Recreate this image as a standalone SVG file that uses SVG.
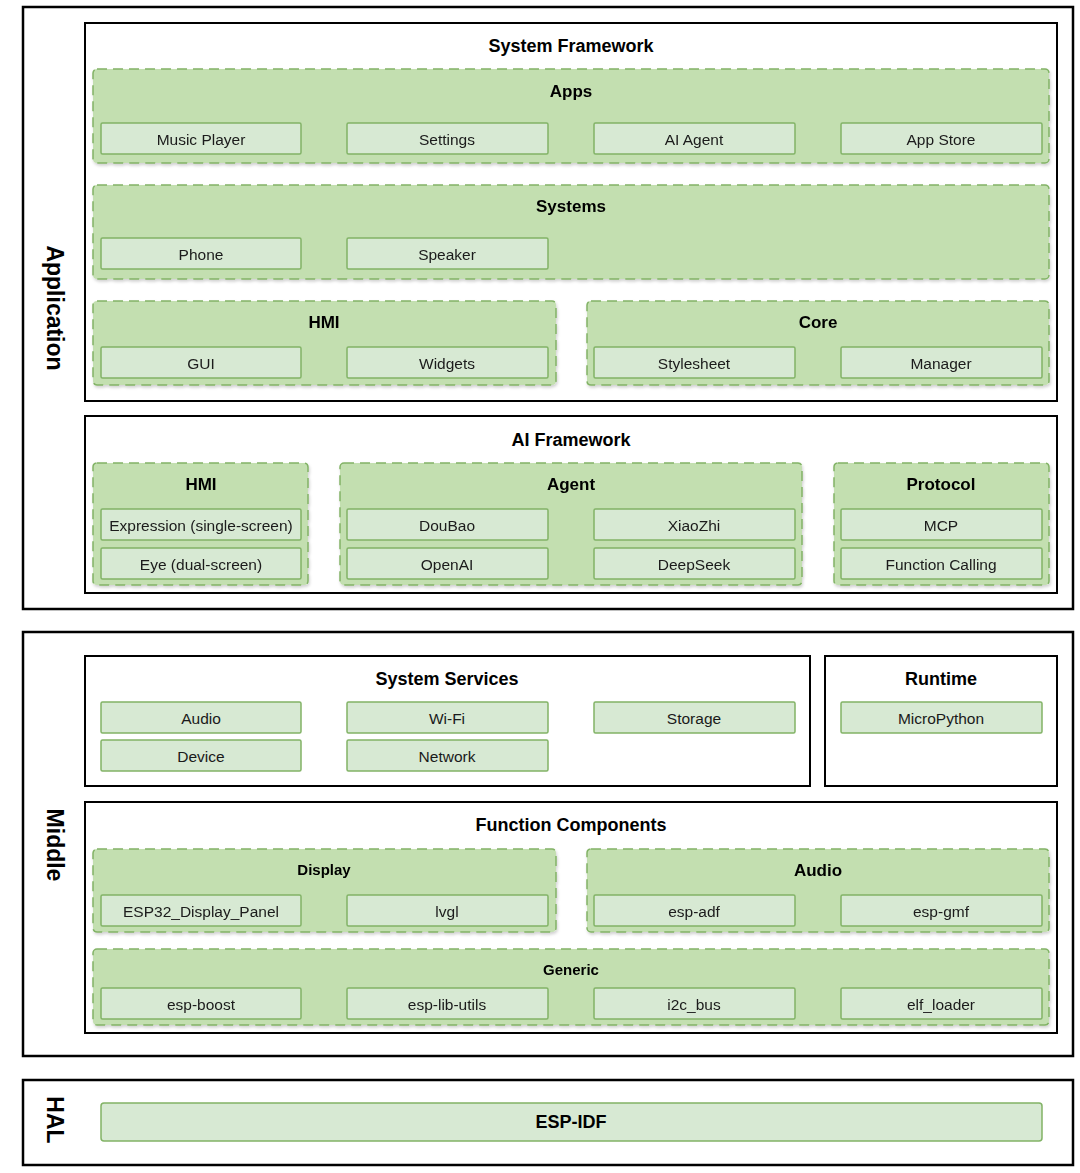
<svg xmlns="http://www.w3.org/2000/svg" width="1080" height="1173" viewBox="0 0 1080 1173">
<style>
.frame{fill:#fff;stroke:#000;stroke-width:2.5}
.box{fill:#fff;stroke:#000;stroke-width:2}
.grp{fill:#c3dfb0;stroke:#82b366;stroke-width:1.5;stroke-dasharray:10 6}
.item{fill:#d7e9d3;stroke:#82b366;stroke-width:1.5}
.t{font-family:"Liberation Sans",Arial,sans-serif;font-size:15.5px;fill:#1a1a1a;text-anchor:middle;dominant-baseline:central}
.h{font-family:"Liberation Sans",Arial,sans-serif;font-weight:bold;font-size:18px;fill:#000;text-anchor:middle;dominant-baseline:central}
.hm{font-family:"Liberation Sans",Arial,sans-serif;font-weight:bold;font-size:17px;fill:#000;text-anchor:middle;dominant-baseline:central}
.hs{font-family:"Liberation Sans",Arial,sans-serif;font-weight:bold;font-size:15px;fill:#000;text-anchor:middle;dominant-baseline:central}
.side{font-family:"Liberation Sans",Arial,sans-serif;font-weight:bold;font-size:23px;fill:#000;text-anchor:middle;dominant-baseline:central}
</style>
<defs>
<filter id="sh" x="-5%" y="-5%" width="110%" height="120%">
<feDropShadow dx="1" dy="2" stdDeviation="1.5" flood-color="#000" flood-opacity="0.18"/>
</filter>
</defs>
<rect width="1080" height="1173" fill="#fff"/>
<g id="connectors"></g>

<!-- Application -->
<g id="application">
<rect class="frame" x="23" y="7" width="1050" height="602"/>
<text class="side" transform="translate(55,308) rotate(90)">Application</text>
</g>
<g id="system-framework">
<rect class="box" x="85" y="23" width="972" height="378"/>
<text class="h" x="571" y="46">System Framework</text>
</g>
<g id="apps" filter="url(#sh)">
<rect class="grp" x="93" y="69" width="956" height="94" rx="4"/>
<text class="hm" x="571" y="91">Apps</text>
<rect class="item" x="101" y="123" width="200" height="31" rx="1.5"/><text class="t" x="201" y="139">Music Player</text>
<rect class="item" x="347" y="123" width="201" height="31" rx="1.5"/><text class="t" x="447" y="139">Settings</text>
<rect class="item" x="594" y="123" width="201" height="31" rx="1.5"/><text class="t" x="694" y="139">AI Agent</text>
<rect class="item" x="841" y="123" width="201" height="31" rx="1.5"/><text class="t" x="941" y="139">App Store</text>
</g>
<g id="systems" filter="url(#sh)">
<rect class="grp" x="93" y="185" width="956" height="94" rx="4"/>
<text class="hm" x="571" y="206">Systems</text>
<rect class="item" x="101" y="238" width="200" height="31" rx="1.5"/><text class="t" x="201" y="254">Phone</text>
<rect class="item" x="347" y="238" width="201" height="31" rx="1.5"/><text class="t" x="447" y="254">Speaker</text>
</g>
<g id="hmi-sys" filter="url(#sh)">
<rect class="grp" x="93" y="301" width="463" height="84" rx="4"/>
<text class="hm" x="324" y="322">HMI</text>
<rect class="item" x="101" y="347" width="200" height="31" rx="1.5"/><text class="t" x="201" y="363">GUI</text>
<rect class="item" x="347" y="347" width="201" height="31" rx="1.5"/><text class="t" x="447" y="363">Widgets</text>
</g>
<g id="core" filter="url(#sh)">
<rect class="grp" x="587" y="301" width="462" height="84" rx="4"/>
<text class="hm" x="818" y="322">Core</text>
<rect class="item" x="594" y="347" width="201" height="31" rx="1.5"/><text class="t" x="694" y="363">Stylesheet</text>
<rect class="item" x="841" y="347" width="201" height="31" rx="1.5"/><text class="t" x="941" y="363">Manager</text>
</g>

<g id="ai-framework">
<rect class="box" x="85" y="416" width="972" height="177"/>
<text class="h" x="571" y="440">AI Framework</text>
</g>
<g id="hmi-ai" filter="url(#sh)">
<rect class="grp" x="93" y="463" width="215" height="122" rx="4"/>
<text class="hm" x="201" y="484">HMI</text>
<rect class="item" x="101" y="509" width="200" height="31" rx="1.5"/><text class="t" x="201" y="525">Expression (single-screen)</text>
<rect class="item" x="101" y="548" width="200" height="31" rx="1.5"/><text class="t" x="201" y="564">Eye (dual-screen)</text>
</g>
<g id="agent" filter="url(#sh)">
<rect class="grp" x="340" y="463" width="462" height="122" rx="4"/>
<text class="hm" x="571" y="484">Agent</text>
<rect class="item" x="347" y="509" width="201" height="31" rx="1.5"/><text class="t" x="447" y="525">DouBao</text>
<rect class="item" x="594" y="509" width="201" height="31" rx="1.5"/><text class="t" x="694" y="525">XiaoZhi</text>
<rect class="item" x="347" y="548" width="201" height="31" rx="1.5"/><text class="t" x="447" y="564">OpenAI</text>
<rect class="item" x="594" y="548" width="201" height="31" rx="1.5"/><text class="t" x="694" y="564">DeepSeek</text>
</g>
<g id="protocol" filter="url(#sh)">
<rect class="grp" x="834" y="463" width="215" height="122" rx="4"/>
<text class="hm" x="941" y="484">Protocol</text>
<rect class="item" x="841" y="509" width="201" height="31" rx="1.5"/><text class="t" x="941" y="525">MCP</text>
<rect class="item" x="841" y="548" width="201" height="31" rx="1.5"/><text class="t" x="941" y="564">Function Calling</text>
</g>

<!-- Middle -->
<g id="middle">
<rect class="frame" x="23" y="632" width="1050" height="424"/>
<text class="side" transform="translate(55,845) rotate(90)">Middle</text>
</g>
<g id="system-services">
<rect class="box" x="85" y="656" width="725" height="130"/>
<text class="h" x="447" y="679">System Services</text>
<rect class="item" x="101" y="702" width="200" height="31" rx="1.5"/><text class="t" x="201" y="718">Audio</text>
<rect class="item" x="347" y="702" width="201" height="31" rx="1.5"/><text class="t" x="447" y="718">Wi-Fi</text>
<rect class="item" x="594" y="702" width="201" height="31" rx="1.5"/><text class="t" x="694" y="718">Storage</text>
<rect class="item" x="101" y="740" width="200" height="31" rx="1.5"/><text class="t" x="201" y="756">Device</text>
<rect class="item" x="347" y="740" width="201" height="31" rx="1.5"/><text class="t" x="447" y="756">Network</text>
</g>
<g id="runtime">
<rect class="box" x="825" y="656" width="232" height="130"/>
<text class="h" x="941" y="679">Runtime</text>
<rect class="item" x="841" y="702" width="201" height="31" rx="1.5"/><text class="t" x="941" y="718">MicroPython</text>
</g>
<g id="function-components">
<rect class="box" x="85" y="802" width="972" height="231"/>
<text class="h" x="571" y="825">Function Components</text>
</g>
<g id="display" filter="url(#sh)">
<rect class="grp" x="93" y="849" width="463" height="83" rx="4"/>
<text class="hs" x="324" y="869">Display</text>
<rect class="item" x="101" y="895" width="200" height="31" rx="1.5"/><text class="t" x="201" y="911">ESP32_Display_Panel</text>
<rect class="item" x="347" y="895" width="201" height="31" rx="1.5"/><text class="t" x="447" y="911">lvgl</text>
</g>
<g id="audio" filter="url(#sh)">
<rect class="grp" x="587" y="849" width="462" height="83" rx="4"/>
<text class="hm" x="818" y="870">Audio</text>
<rect class="item" x="594" y="895" width="201" height="31" rx="1.5"/><text class="t" x="694" y="911">esp-adf</text>
<rect class="item" x="841" y="895" width="201" height="31" rx="1.5"/><text class="t" x="941" y="911">esp-gmf</text>
</g>
<g id="generic" filter="url(#sh)">
<rect class="grp" x="93" y="949" width="956" height="76" rx="4"/>
<text class="hs" x="571" y="969">Generic</text>
<rect class="item" x="101" y="988" width="200" height="31" rx="1.5"/><text class="t" x="201" y="1004">esp-boost</text>
<rect class="item" x="347" y="988" width="201" height="31" rx="1.5"/><text class="t" x="447" y="1004">esp-lib-utils</text>
<rect class="item" x="594" y="988" width="201" height="31" rx="1.5"/><text class="t" x="694" y="1004">i2c_bus</text>
<rect class="item" x="841" y="988" width="201" height="31" rx="1.5"/><text class="t" x="941" y="1004">elf_loader</text>
</g>

<!-- HAL -->
<g id="hal">
<rect class="frame" x="23" y="1080" width="1050" height="85"/>
<text class="side" transform="translate(55,1120) rotate(90)">HAL</text>
</g>
<g id="esp-idf">
<rect class="item" x="101" y="1103" width="941" height="38" rx="3"/>
<text class="h" x="571" y="1122">ESP-IDF</text>
</g>
</svg>
